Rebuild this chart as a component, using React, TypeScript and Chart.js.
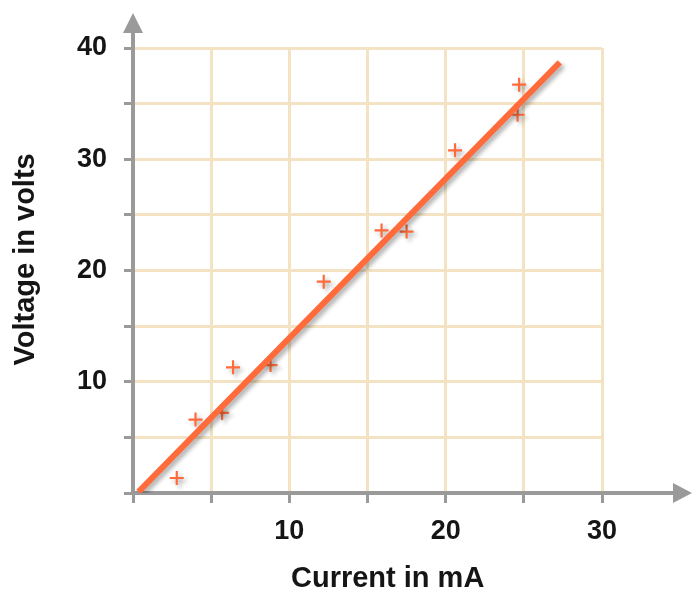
import React, { useEffect, useRef } from "react";
import { Chart, registerables } from "chart.js";

Chart.register(...registerables);

const currentMA = [2.8, 4.0, 5.7, 6.4, 8.8, 12.2, 15.9, 17.5, 20.6, 24.7, 24.6];
const voltage = [1.35, 6.6, 7.2, 11.3, 11.5, 19.0, 23.6, 23.5, 30.8, 36.7, 34.0];
const fitX = [0.35, 27.3];
const fitY = [0.1, 38.7];
const xLabelTicks = [10, 20, 30];
const yLabelTicks = [10, 20, 30, 40];
const xTitle = "Current in mA";
const yTitle = "Voltage in volts";

const ORANGE = "#ff6b3b";
const GRID = "#f3e3c3";
const AXIS = "#9a9a9a";
const TEXT = "#151515";
const FONT = "'Liberation Sans', Arial, Helvetica, sans-serif";

const shadowPlugin = {
  id: "shadow",
  beforeDatasetDraw(chart: any) {
    const ctx = chart.ctx;
    ctx.save();
    ctx.shadowColor = "rgba(0,0,0,0.3)";
    ctx.shadowBlur = 4;
    ctx.shadowOffsetX = 3;
    ctx.shadowOffsetY = 3;
  },
  afterDatasetDraw(chart: any) {
    chart.ctx.restore();
  },
};

const arrowPlugin = {
  id: "axisArrows",
  beforeDatasetsDraw(chart: any) {
    const ctx = chart.ctx;
    const { left, right, top, bottom } = chart.chartArea;
    const w = chart.width;
    ctx.save();
    ctx.strokeStyle = AXIS;
    ctx.fillStyle = AXIS;
    ctx.lineWidth = 4;
    ctx.beginPath();
    ctx.moveTo(left, top);
    ctx.lineTo(left, 30);
    ctx.stroke();
    ctx.beginPath();
    ctx.moveTo(left, 13);
    ctx.lineTo(left - 10, 33);
    ctx.lineTo(left + 10, 33);
    ctx.closePath();
    ctx.fill();
    ctx.beginPath();
    ctx.moveTo(right, bottom);
    ctx.lineTo(w - 18, bottom);
    ctx.stroke();
    ctx.beginPath();
    ctx.moveTo(w - 1, bottom);
    ctx.lineTo(w - 20, bottom - 10);
    ctx.lineTo(w - 20, bottom + 10);
    ctx.closePath();
    ctx.fill();
    ctx.restore();
  },
};

const titlePlugin = {
  id: "axisTitles",
  afterDraw(chart: any) {
    const ctx = chart.ctx;
    const { left, right, top, bottom } = chart.chartArea;
    ctx.save();
    ctx.fillStyle = TEXT;
    ctx.font = `bold 29px ${FONT}`;
    ctx.textAlign = "center";
    ctx.textBaseline = "middle";
    ctx.fillText(xTitle, left + (right - left) * 0.543, chart.height - 16);
    ctx.translate(26, top + (bottom - top) * 0.475);
    ctx.rotate(-Math.PI / 2);
    ctx.fillText(yTitle, 0, 0);
    ctx.restore();
  },
};

export default function App() {
  const ref = useRef<HTMLCanvasElement | null>(null);

  useEffect(() => {
    if (!ref.current) return;
    const chart = new Chart(ref.current, {
      type: "scatter",
      data: {
        datasets: [
          {
            type: "line",
            data: fitX.map((x, i) => ({ x, y: fitY[i] })),
            borderColor: ORANGE,
            borderWidth: 6,
            borderCapStyle: "butt",
            pointRadius: 0,
            fill: false,
          } as any,
          {
            data: currentMA.map((x, i) => ({ x, y: voltage[i] })),
            pointStyle: "cross",
            pointRadius: 7,
            borderWidth: 2.2,
            borderColor: ORANGE,
            backgroundColor: ORANGE,
          },
        ],
      },
      options: {
        animation: false,
        responsive: false,
        maintainAspectRatio: false,
        layout: { padding: { top: 48, right: 91, left: 0, bottom: 0 } },
        plugins: { legend: { display: false }, tooltip: { enabled: false } },
        scales: {
          x: {
            type: "linear",
            min: 0,
            max: 30,
            afterFit: (s: any) => {
              s.height = 102;
            },
            border: { color: AXIS, width: 4 },
            grid: {
              color: GRID,
              lineWidth: 3,
              tickColor: AXIS,
              tickWidth: 3,
              tickLength: 10,
            },
            ticks: {
              stepSize: 5,
              autoSkip: false,
              maxRotation: 0,
              padding: 12,
              color: TEXT,
              font: { family: FONT, size: 27, weight: "bold" },
              callback: (v: any) => (xLabelTicks.includes(v) ? String(v) : ""),
            },
            title: { display: false },
          },
          y: {
            type: "linear",
            min: 0,
            max: 40,
            afterFit: (s: any) => {
              s.width = 133;
            },
            border: { color: AXIS, width: 4 },
            grid: {
              color: GRID,
              lineWidth: 3,
              tickColor: AXIS,
              tickWidth: 3,
              tickLength: 9,
            },
            ticks: {
              stepSize: 5,
              autoSkip: false,
              padding: 17,
              color: TEXT,
              font: { family: FONT, size: 27, weight: "bold" },
              callback: (v: any) => (yLabelTicks.includes(v) ? String(v) : ""),
            },
            title: { display: false },
          },
        },
      },
      plugins: [arrowPlugin, shadowPlugin, titlePlugin],
    } as any);
    return () => chart.destroy();
  }, []);

  return (
    <div style={{ position: "absolute", left: 0, top: 0, width: 693, height: 595, background: "#fff" }}>
      <canvas ref={ref} width={693} height={595} style={{ width: 693, height: 595 }} />
    </div>
  );
}
